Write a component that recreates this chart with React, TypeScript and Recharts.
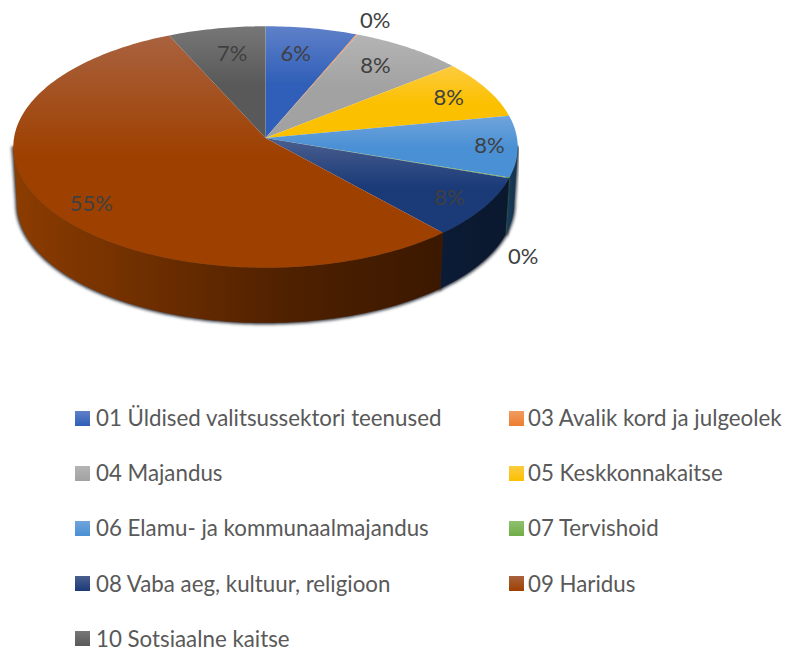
import { PieChart, Pie, Legend } from 'recharts'

const categories = [
  '01 Üldised valitsussektori teenused',
  '03 Avalik kord ja julgeolek',
  '04 Majandus',
  '05 Keskkonnakaitse',
  '06 Elamu- ja kommunaalmajandus',
  '07 Tervishoid',
  '08 Vaba aeg, kultuur, religioon',
  '09 Haridus',
  '10 Sotsiaalne kaitse',
]
const shares = [6.3, 0.1, 7.8, 7.8, 8.2, 0.1, 8.1, 54.9, 6.7]

const baseColors = ['#2f5fb8', '#ed7d31', '#a2a2a2', '#fbc000', '#4a90d4', '#70ad47', '#1a3a78', '#9e4000', '#595959']
const tintColors = ['#5f80c9', '#f19c61', '#b4b4b4', '#fdcb40', '#70a4dc', '#8fc06f', '#4a5f8e', '#a9623f', '#777777']
// side wall shade at the left and right of each slice
const wallLeft = ['#1c3a70', '#8a4a1c', '#5a5a5a', '#96730a', '#1b3f60', '#436a2a', '#0c1b36', '#8c3c00', '#353535']
const wallRight = ['#1c3a70', '#8a4a1c', '#5a5a5a', '#96730a', '#143450', '#436a2a', '#0b1930', '#3b1800', '#353535']

// nudge of each percent label from its default spot on the slice
const labelNudge = [[-5, -2], [40, -40], [1, -5], [16, -5], [35, 0], [76, 88], [22, 7], [-11, 14], [4, -2]]

const tableData = categories.map((name, i) => ({ name, value: shares[i], fill: baseColors[i] }))

const CX = 265.5
const CY = 138
const RADIUS = 251.5
const FLATTEN = 0.4774 // vertical squash of the disc
const TILT = 0.0744 // perspective, far edge looks smaller
const DEPTH = 57
const BOTTOM_SCALE = 0.985
const WALL_FROM = 94
const WALL_TO = 266

// a = degrees clockwise from 12 o'clock, f = fraction of the radius
function project(cx: number, cy: number, r: number, a: number, f = 1) {
  const rad = (a * Math.PI) / 180
  const u = f * Math.sin(rad)
  const v = f * Math.cos(rad)
  const w = 1 + TILT * v
  return { x: cx + (r * u) / w, y: cy - (r * FLATTEN * v) / w }
}

function rimPoints(cx: number, cy: number, r: number, from: number, to: number) {
  const steps = Math.max(2, Math.ceil(Math.abs(to - from)))
  const pts = []
  for (let i = 0; i <= steps; i++) pts.push(project(cx, cy, r, from + ((to - from) * i) / steps))
  return pts
}

function toPath(pts: { x: number; y: number }[]) {
  return pts.map((p, i) => `${i === 0 ? 'M' : 'L'}${p.x.toFixed(2)},${p.y.toFixed(2)}`).join(' ') + ' Z'
}

function wallPath(props: any) {
  const { cx, cy, outerRadius, startAngle, endAngle } = props
  const from = Math.max(90 - startAngle, WALL_FROM)
  const to = Math.min(90 - endAngle, WALL_TO)
  if (to <= from) return null
  const upper = rimPoints(cx, cy, outerRadius, from, to)
  const lower = rimPoints(cx, cy + DEPTH, outerRadius * BOTTOM_SCALE, to, from)
  return toPath([...upper, ...lower])
}

function TopSector(props: any) {
  const { cx, cy, outerRadius, startAngle, endAngle, index } = props
  const pts = [{ x: cx, y: cy }, ...rimPoints(cx, cy, outerRadius, 90 - startAngle, 90 - endAngle)]
  return <path d={toPath(pts)} fill={`url(#top-${index})`} stroke="none" />
}

function WallSector(props: any) {
  const d = wallPath(props)
  if (!d) return <g />
  return <path d={d} fill={`url(#wall-${props.index})`} stroke={`url(#wall-${props.index})`} strokeWidth={0.5} />
}

function ShadowSector(props: any) {
  const d = wallPath(props)
  if (!d) return <g />
  return <path d={d} fill="#3a3f48" stroke="#3a3f48" strokeWidth={3.5} filter="url(#wallShadow)" />
}

function renderLabel(props: any) {
  const { cx, cy, outerRadius, midAngle, percent, index } = props
  const p = project(cx, cy, outerRadius, 90 - midAngle, 0.75)
  return (
    <text
      x={p.x + labelNudge[index][0]}
      y={p.y + labelNudge[index][1]}
      fill="#404040"
      fontFamily="Lato, sans-serif"
      fontSize={22}
      textAnchor="middle"
      dominantBaseline="central"
    >
      {`${Math.round(percent * 100)}%`}
    </text>
  )
}

function LegendGrid({ payload }: any) {
  // three stacked pies give every name three times
  const names = Array.from(new Set((payload || []).map((item: any) => item.value))) as string[]
  names.sort()
  return (
    <div style={{ position: 'relative', width: 789, height: 250 }}>
      {names.map((name, i) => (
        <div
          key={name}
          style={{
            position: 'absolute',
            left: i % 2 === 0 ? 75 : 509,
            top: 11 + Math.floor(i / 2) * 55.2,
            display: 'flex',
            alignItems: 'center',
            height: 18,
            whiteSpace: 'nowrap',
          }}
        >
          <span
            style={{
              display: 'inline-block',
              width: 15,
              height: 15,
              marginRight: i % 2 === 0 ? 6 : 4,
              background: `linear-gradient(${tintColors[i]}, ${baseColors[i]})`,
            }}
          />
          <span style={{ fontFamily: 'Lato, sans-serif', fontSize: 22.3, lineHeight: '18px', color: '#595959' }}>{name}</span>
        </div>
      ))}
    </div>
  )
}

export default function App() {
  const pieProps = {
    data: tableData,
    dataKey: 'value',
    nameKey: 'name',
    cx: CX,
    cy: CY,
    outerRadius: RADIUS,
    startAngle: 90,
    endAngle: -270,
    stroke: 'none',
    isAnimationActive: false,
  }
  return (
    <div style={{ position: 'absolute', left: 0, top: 0, width: 789, height: 648 }}>
      <PieChart width={789} height={648} margin={{ top: 0, right: 0, bottom: 0, left: 0 }}>
        <defs>
          <filter id="wallShadow" x="-10%" y="-10%" width="120%" height="130%">
            <feGaussianBlur stdDeviation="1.8" />
          </filter>
          {categories.map((_, i) => (
            <linearGradient key={`top-${i}`} id={`top-${i}`} x1="0" y1="0" x2="0" y2="1">
              <stop offset="0%" stopColor={tintColors[i]} />
              <stop offset="52%" stopColor={baseColors[i]} />
              <stop offset="100%" stopColor={baseColors[i]} />
            </linearGradient>
          ))}
          {categories.map((_, i) => (
            <linearGradient key={`wall-${i}`} id={`wall-${i}`} x1="0" y1="0" x2="1" y2="0">
              <stop offset="0%" stopColor={wallLeft[i]} />
              <stop offset="65%" stopColor={i === 7 ? '#4e2000' : wallRight[i]} />
              <stop offset="100%" stopColor={wallRight[i]} />
            </linearGradient>
          ))}
        </defs>
        <Pie {...pieProps} legendType="none" shape={ShadowSector} />
        <Pie {...pieProps} legendType="none" shape={WallSector} />
        <Pie {...pieProps} shape={TopSector} label={renderLabel} labelLine={false} />
        <Legend
          content={<LegendGrid />}
          verticalAlign="bottom"
          wrapperStyle={{ position: 'absolute', left: 0, top: 398, width: 789, height: 250 }}
        />
      </PieChart>
    </div>
  )
}
